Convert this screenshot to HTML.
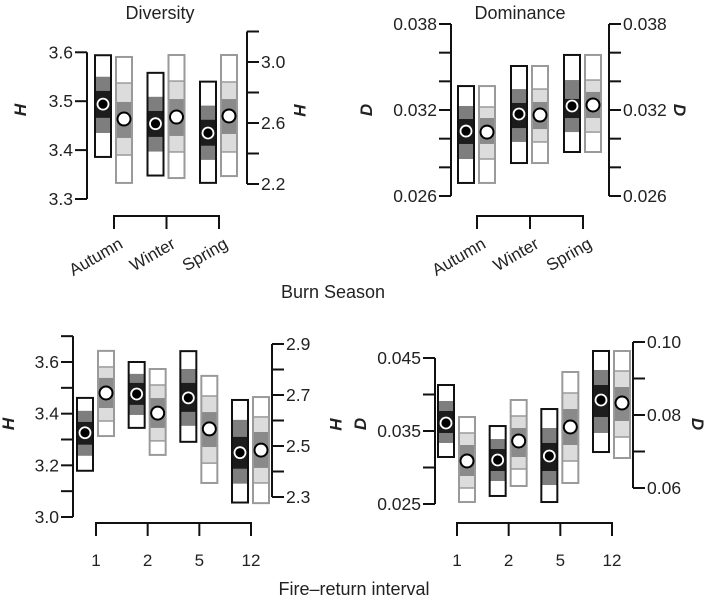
<!DOCTYPE html>
<html><head><meta charset="utf-8"><style>
html,body{margin:0;padding:0;background:#fff;}
svg{display:block;font-family:"Liberation Sans",Arial,sans-serif;}
</style></head><body>
<svg id="chart" width="709" height="602" viewBox="0 0 709 602" xmlns="http://www.w3.org/2000/svg"></svg>
<script>
// Data: each box = [top95, hi80, hi50, mean, lo50, lo80, bottom95]
const seasonCats = ["Autumn","Winter","Spring"];
const intervalCats = ["1","2","5","12"];
const divBlack = [[3.594,3.550,3.521,3.494,3.466,3.435,3.386],[3.558,3.509,3.480,3.454,3.427,3.397,3.348],[3.540,3.491,3.462,3.435,3.409,3.380,3.333]];
const divGray  = [[3.033,2.862,2.738,2.626,2.502,2.390,2.207],[3.046,2.875,2.757,2.639,2.515,2.410,2.239],[3.046,2.869,2.757,2.646,2.528,2.410,2.252]];
const domBlack = [[0.03367,0.03228,0.03137,0.03053,0.02963,0.02858,0.02691],[0.03507,0.03346,0.03249,0.03172,0.03074,0.02977,0.02830],[0.03584,0.03409,0.03277,0.03228,0.03144,0.03046,0.02907]];
const domGray  = [[0.03367,0.03221,0.03144,0.03046,0.02963,0.02858,0.02691],[0.03507,0.03346,0.03256,0.03165,0.03067,0.02977,0.02830],[0.03584,0.03409,0.03326,0.03235,0.03144,0.03046,0.02907]];
const friDivBlack = [[3.461,3.411,3.368,3.326,3.280,3.237,3.179],[3.600,3.554,3.519,3.476,3.434,3.395,3.345],[3.642,3.573,3.519,3.461,3.407,3.353,3.291],[3.453,3.376,3.310,3.249,3.187,3.129,3.056]];
const friDivGray  = [[2.873,2.810,2.767,2.708,2.649,2.598,2.539],[2.802,2.739,2.688,2.629,2.571,2.520,2.465],[2.775,2.696,2.633,2.567,2.496,2.433,2.355],[2.692,2.614,2.555,2.484,2.414,2.355,2.276]];
const friDomBlack = [[0.04130,0.03911,0.03774,0.03610,0.03473,0.03336,0.03144],[0.03568,0.03390,0.03253,0.03103,0.02952,0.02815,0.02610],[0.03801,0.03541,0.03336,0.03158,0.02952,0.02760,0.02527],[0.04596,0.04336,0.04130,0.03925,0.03692,0.03473,0.03212]];
const friDomGray  = [[0.07945,0.07507,0.07178,0.06740,0.06329,0.06000,0.05616],[0.08411,0.07973,0.07644,0.07288,0.06849,0.06521,0.06055],[0.09178,0.08603,0.08164,0.07671,0.07178,0.06740,0.06137],[0.09753,0.09205,0.08767,0.08329,0.07836,0.07397,0.06822]];
const divLeftTicks = [3.3,3.4,3.5,3.6];
const divRightTicks = [2.2,2.4,2.6,2.8,3.0,3.2];
const divRightLabels = ["2.2","","2.6","","3.0",""];
const domTicks = [0.026,0.028,0.030,0.032,0.034,0.036,0.038];
const domLabels = ["0.026","","","0.032","","","0.038"];
const friDivLeftTicks = [3.0,3.1,3.2,3.3,3.4,3.5,3.6,3.7];
const friDivLeftLabels = ["3.0","","3.2","","3.4","","3.6",""];
const friDivRightTicks = [2.3,2.4,2.5,2.6,2.7,2.8,2.9];
const friDivRightLabels = ["2.3","","2.5","","2.7","","2.9"];
const friDomLeftTicks = [0.025,0.030,0.035,0.040,0.045];
const friDomLeftLabels = ["0.025","","0.035","","0.045"];
const friDomRightTicks = [0.06,0.07,0.08,0.09,0.10];
const friDomRightLabels = ["0.06","","0.08","","0.10"];

const svg = document.getElementById('chart');
const NS = "http://www.w3.org/2000/svg";
function mk(tag, attrs, parent){const e=document.createElementNS(NS,tag);for(const k in attrs)e.setAttribute(k,attrs[k]);(parent||svg).appendChild(e);return e;}
function lin(d0,d1,r0,r1){return v=>r0+(v-d0)*(r1-r0)/(d1-d0);}

function axis(g, x, scale, ticks, labels, side, name){
  const a = mk('g',{},g);
  
  
  const ys = ticks.map(scale);
  mk('line',{x1:x,x2:x,y1:Math.min(...ys),y2:Math.max(...ys),stroke:'#111','stroke-width':2},a);
  ticks.forEach((t,i)=>{
    const y=scale(t), dx = side==='left'?-12:12;
    mk('line',{x1:x,x2:x+dx,y1:y,y2:y,stroke:'#111','stroke-width':2},a);
    if(labels[i]){
      const tx = mk('text',{x:side==='left'?x-14:x+14,y:y+6,'font-size':17.5,'text-anchor':side==='left'?'end':'start',fill:'#222'},a);
      tx.textContent = labels[i];
      
      
    }
  });
}
function box(g, cx, scale, v, isBlack, name){
  const b = mk('g',{},g);
  
  
  const w=16, x=cx-w/2;
  const mid = isBlack?'#1c1c1c':'#8a8a8a';
  const band = isBlack?'#7e7e7e':'#dcdcdc';
  const edge = isBlack?'#111':'#9a9a9a';
  mk('rect',{x:x,y:scale(v[0]),width:w,height:scale(v[6])-scale(v[0]),fill:'#fff'},b);
  mk('rect',{x:x,y:scale(v[1]),width:w,height:scale(v[5])-scale(v[1]),fill:band},b);
  mk('rect',{x:x,y:scale(v[2]),width:w,height:scale(v[4])-scale(v[2]),fill:mid},b);
  if(!isBlack){
    mk('line',{x1:x,x2:x+w,y1:scale(v[1]),y2:scale(v[1]),stroke:edge,'stroke-width':1.5},b);
    mk('line',{x1:x,x2:x+w,y1:scale(v[5]),y2:scale(v[5]),stroke:edge,'stroke-width':1.5},b);
  }
  mk('rect',{x:x,y:scale(v[0]),width:w,height:scale(v[6])-scale(v[0]),fill:'none',stroke:edge,'stroke-width':2},b);
  if(isBlack) mk('circle',{cx:cx,cy:scale(v[3]),r:5.5,fill:'#000',stroke:'#fff','stroke-width':1.8},b);
  else mk('circle',{cx:cx,cy:scale(v[3]),r:6.5,fill:'#fff',stroke:'#000','stroke-width':2},b);
}
function bracket(g, xs, y, name){
  const b = mk('g',{},g);
  
  
  mk('line',{x1:xs[0],x2:xs[xs.length-1],y1:y,y2:y,stroke:'#111','stroke-width':2},b);
  xs.forEach(x=>mk('line',{x1:x,x2:x,y1:y-1,y2:y+13,stroke:'#111','stroke-width':2},b));
}
function txt(g,x,y,s,size,opts,name){
  const t=mk('text',Object.assign({x:x,y:y,'font-size':size,fill:'#222'},opts||{}),g);
  t.textContent=s;
  
  
  return t;
}

function panel(cfg){
  const g = mk('g',{});
  
  
  const sl = lin(cfg.ld[0],cfg.ld[1],cfg.lr[0],cfg.lr[1]);
  const sr = lin(cfg.rd[0],cfg.rd[1],cfg.rr[0],cfg.rr[1]);
  axis(g,cfg.lx,sl,cfg.lt,cfg.ll,'left','left-y-axis');
  axis(g,cfg.rx,sr,cfg.rt,cfg.rl,'right','right-y-axis');
  const n = cfg.cats.length;
  const xs = cfg.cats.map((c,i)=>cfg.cx0+i*(cfg.cx1-cfg.cx0)/(n-1));
  bracket(g,xs,cfg.by,'category-axis');
  cfg.black.forEach((v,i)=>box(g,xs[i]-11,sl,v,true,'box-black-'+cfg.cats[i].toLowerCase()));
  cfg.gray.forEach((v,i)=>box(g,xs[i]+10,sr,v,false,'box-gray-'+cfg.cats[i].toLowerCase()));
  cfg.cats.forEach((c,i)=>{
    if(cfg.rot) txt(g,xs[i]+10,cfg.by+31,c,17,{'text-anchor':'end',transform:`rotate(-30 ${xs[i]+10} ${cfg.by+31})`},'category-label');
    else txt(g,xs[i],cfg.by+43,c,17,{'text-anchor':'middle'},'category-label');
  });
  if(cfg.title) txt(g,cfg.tx,19,cfg.title,18,{'text-anchor':'middle'},'panel-title');
  const ly=cfg.yl;
  txt(g,cfg.llx,ly,cfg.yname,17,{'text-anchor':'middle','font-weight':'bold','font-style':'italic',transform:`rotate(-90 ${cfg.llx} ${ly})`},'left-y-axis-title');
  txt(g,cfg.rlx,ly,cfg.yname,17,{'text-anchor':'middle','font-weight':'bold','font-style':'italic',transform:`rotate(90 ${cfg.rlx} ${ly})`},'right-y-axis-title');
}

panel({name:'diversity-season-panel',cats:seasonCats,black:divBlack,gray:divGray,
  ld:[3.3,3.6],lr:[199,52.3],rd:[2.2,3.0],rr:[184,62],lx:87,rx:247,
  lt:divLeftTicks,ll:divLeftTicks.map(v=>v.toFixed(1)),rt:divRightTicks,rl:divRightLabels,
  cx0:114,cx1:219,by:216,rot:true,title:'Diversity',tx:160,yname:'H',llx:26,rlx:294,yl:110});
panel({name:'dominance-season-panel',cats:seasonCats,black:domBlack,gray:domGray,
  ld:[0.026,0.038],lr:[196,24],rd:[0.026,0.038],rr:[196,24],lx:451,rx:609,
  lt:domTicks,ll:domLabels,rt:domTicks,rl:domLabels,
  cx0:477,cx1:583,by:216,rot:true,title:'Dominance',tx:520,yname:'D',llx:372,rlx:674,yl:110});
panel({name:'diversity-interval-panel',cats:intervalCats,black:friDivBlack,gray:friDivGray,
  ld:[3.0,3.6],lr:[517,362],rd:[2.3,2.9],rr:[497,344],lx:73,rx:272,
  lt:friDivLeftTicks,ll:friDivLeftLabels,rt:friDivRightTicks,rl:friDivRightLabels,
  cx0:96,cx1:251,by:523,rot:false,yname:'H',llx:14,rlx:330,yl:424});
panel({name:'dominance-interval-panel',cats:intervalCats,black:friDomBlack,gray:friDomGray,
  ld:[0.025,0.045],lr:[504,358],rd:[0.06,0.10],rr:[488,342],lx:435,rx:633,
  lt:friDomLeftTicks,ll:friDomLeftLabels,rt:friDomRightTicks,rl:friDomRightLabels,
  cx0:457,cx1:612,by:523,rot:false,yname:'D',llx:366,rlx:692,yl:424});

txt(svg,333,298,'Burn Season',18,{'text-anchor':'middle'},'x-axis-title-season');
txt(svg,354,595,'Fire–return interval',18,{'text-anchor':'middle'},'x-axis-title-interval');
</script>
</body></html>
